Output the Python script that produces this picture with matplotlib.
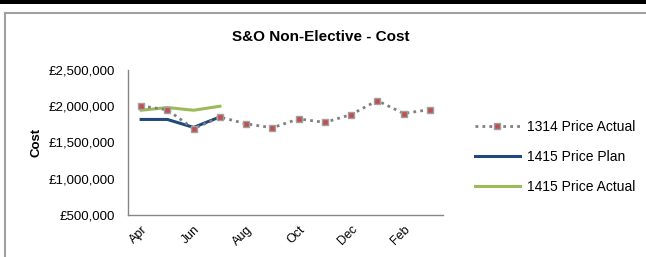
import matplotlib
matplotlib.use("Agg")
import matplotlib.pyplot as plt
from matplotlib.lines import Line2D
from matplotlib.patches import Rectangle
from matplotlib.ticker import FuncFormatter

months = ["Apr", "May", "Jun", "Jul", "Aug", "Sep", "Oct", "Nov", "Dec", "Jan", "Feb", "Mar"]
actual_1314 = [2005000, 1950000, 1690000, 1850000, 1758000, 1703000, 1826000, 1777000, 1886000, 2078000, 1900000, 1955000]
plan_1415 = [1818000, 1818000, 1708000, 1853000]
actual_1415 = [1945000, 1982000, 1945000, 2000000]
yticks = [500000, 1000000, 1500000, 2000000, 2500000]

plt.rcParams['font.family'] = ['Liberation Sans', 'DejaVu Sans']

fig = plt.figure(figsize=(6.46, 2.57), dpi=100)
W, H = 646, 257
ax = fig.add_axes([128 / W, 1 - 215 / H, (443 - 128) / W, (215 - 70) / H])

x = list(range(len(months)))
ax.plot(x, actual_1314, linestyle=(0, (1, 1.5)), color="#808080", linewidth=2,
        marker="s", markersize=5, markerfacecolor="#C0504D", markeredgecolor="#A0A0A0",
        markeredgewidth=1, label="1314 Price Actual", zorder=3)
ax.plot(range(len(plan_1415)), plan_1415, color="#1F497D", linewidth=2.2, label="1415 Price Plan", zorder=2)
ax.plot(range(len(actual_1415)), actual_1415, color="#9BBB59", linewidth=2.2, label="1415 Price Actual", zorder=2)

ax.set_xlim(-0.5, len(months) - 0.5)
ax.set_ylim(500000, 2500000)
ax.set_yticks(yticks)
ax.yaxis.set_major_formatter(FuncFormatter(lambda v, p: "£{:,.0f}".format(v)))
ax.set_xticks(x[::2])
ax.set_xticklabels(months[::2], rotation=45, ha="right", rotation_mode="anchor", fontsize=9)
ax.tick_params(axis="both", length=0, colors="#000000")
ax.tick_params(axis="y", pad=9.5, labelsize=9.5)
ax.tick_params(axis="x", pad=6)
for s in ["top", "right"]:
    ax.spines[s].set_visible(False)
for s in ["left", "bottom"]:
    ax.spines[s].set_color("#868686")
    ax.spines[s].set_linewidth(1)

ax.set_ylabel("Cost", fontsize=9.5, fontweight="bold", labelpad=4)
fig.text(321 / W, 1 - 37 / H, "S&O Non-Elective - Cost", ha="center", va="center",
         fontsize=11, fontweight="bold")

leg = ax.legend(loc="center left", bbox_to_anchor=(462 / W, 1 - 157 / H), bbox_transform=fig.transFigure,
                frameon=False, fontsize=10, handlelength=3.3, labelspacing=1.15, handletextpad=0.5,
                markerscale=0.9)

# chart border and top bar
fig.add_artist(Rectangle((0, 1 - 4 / H), 1, 4 / H, transform=fig.transFigure, color="black", lw=0))
fig.add_artist(Line2D([4.5 / W, 1], [1 - 12.5 / H, 1 - 12.5 / H], transform=fig.transFigure, color="#A0A0A0", lw=1.5))
fig.add_artist(Line2D([4.5 / W, 4.5 / W], [0, 1 - 12.5 / H], transform=fig.transFigure, color="#A0A0A0", lw=1.5))

fig.savefig("out.png", dpi=100)
